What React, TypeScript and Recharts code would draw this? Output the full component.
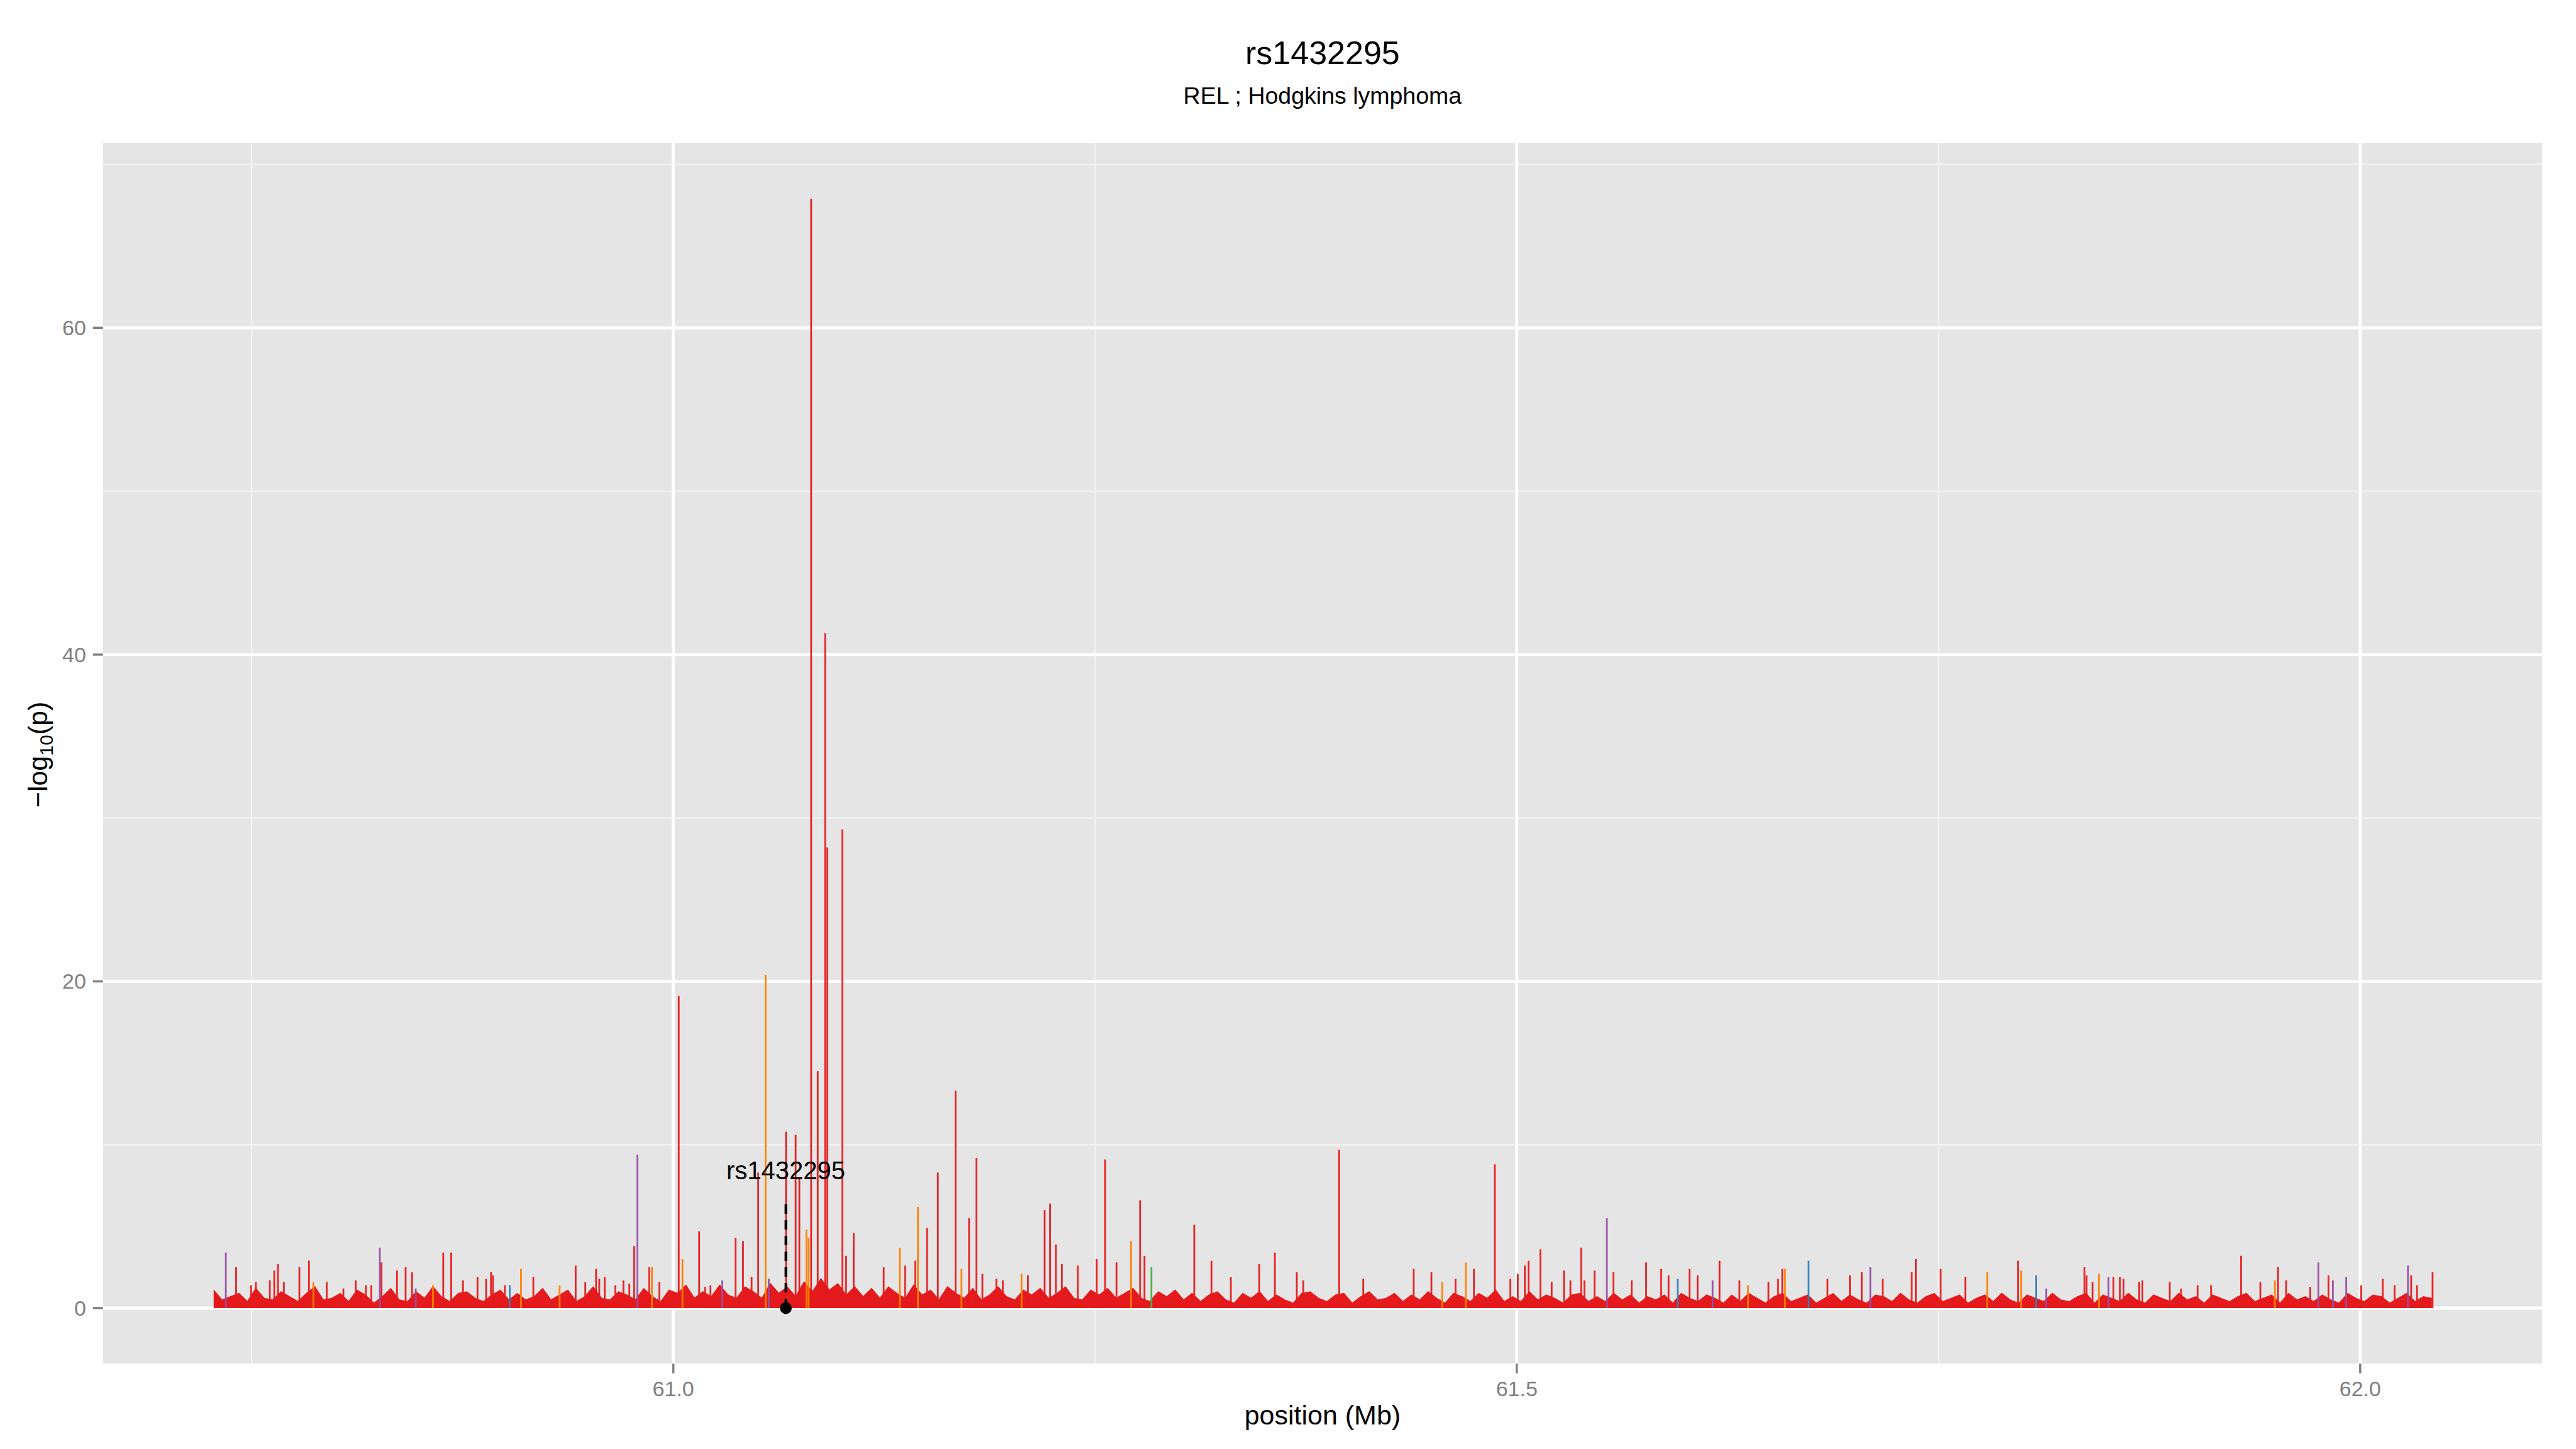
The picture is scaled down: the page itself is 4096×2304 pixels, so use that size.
import React from 'react';
import {
  ComposedChart,
  Area,
  Scatter,
  ErrorBar,
  XAxis,
  YAxis,
  CartesianGrid,
  ReferenceLine,
  ReferenceDot,
} from 'recharts';

// ---------- text ----------
const TITLE = 'rs1432295';
const SUBTITLE = 'REL ; Hodgkins lymphoma';
const X_LABEL = 'position (Mb)';
const LEAD_SNP = 'rs1432295';

// ---------- axes ----------
const X_TICKS = [61.0, 61.5, 62.0];
const X_MINOR = [60.75, 61.25, 61.75];
const Y_TICKS = [0, 20, 40, 60];
const Y_MINOR = [10, 30, 50, 70];
const X_DOMAIN: [number, number] = [60.6619, 62.1078];
const Y_DOMAIN: [number, number] = [-3.4, 71.33];

// ---------- lead SNP annotation ----------
const LEAD_POS = 61.0667;
const LEAD_LINE_TOP = 6.7;
const LEAD_LABEL_Y = 7.9;

// ---------- background band of -log10(p) (dense low-signal SNPs) ----------
const BAND_POS = [
  60.7275, 60.7325, 60.7375, 60.7425, 60.7475, 60.7525, 60.7575, 60.7625, 60.7675, 60.7725,
  60.7775, 60.7825, 60.7875, 60.7925, 60.7975, 60.8025, 60.8075, 60.8125, 60.8175, 60.8225,
  60.8275, 60.8325, 60.8375, 60.8425, 60.8475, 60.8525, 60.8575, 60.8625, 60.8675, 60.8725,
  60.8775, 60.8825, 60.8875, 60.8925, 60.8975, 60.9025, 60.9075, 60.9125, 60.9175, 60.9225,
  60.9275, 60.9325, 60.9375, 60.9425, 60.9475, 60.9525, 60.9575, 60.9625, 60.9675, 60.9725,
  60.9775, 60.9825, 60.9875, 60.9925, 60.9975, 61.0025, 61.0075, 61.0125, 61.0175, 61.0225,
  61.0275, 61.0325, 61.0375, 61.0425, 61.0475, 61.0525, 61.0575, 61.0625, 61.0675, 61.0725,
  61.0775, 61.0825, 61.0875, 61.0925, 61.0975, 61.1025, 61.1075, 61.1125, 61.1175, 61.1225,
  61.1275, 61.1325, 61.1375, 61.1425, 61.1475, 61.1525, 61.1575, 61.1625, 61.1675, 61.1725,
  61.1775, 61.1825, 61.1875, 61.1925, 61.1975, 61.2025, 61.2075, 61.2125, 61.2175, 61.2225,
  61.2275, 61.2325, 61.2375, 61.2425, 61.2475, 61.2525, 61.2575, 61.2625, 61.2675, 61.2725,
  61.2775, 61.2825, 61.2875, 61.2925, 61.2975, 61.3025, 61.3075, 61.3125, 61.3175, 61.3225,
  61.3275, 61.3325, 61.3375, 61.3425, 61.3475, 61.3525, 61.3575, 61.3625, 61.3675, 61.3725,
  61.3775, 61.3825, 61.3875, 61.3925, 61.3975, 61.4025, 61.4075, 61.4125, 61.4175, 61.4225,
  61.4275, 61.4325, 61.4375, 61.4425, 61.4475, 61.4525, 61.4575, 61.4625, 61.4675, 61.4725,
  61.4775, 61.4825, 61.4875, 61.4925, 61.4975, 61.5025, 61.5075, 61.5125, 61.5175, 61.5225,
  61.5275, 61.5325, 61.5375, 61.5425, 61.5475, 61.5525, 61.5575, 61.5625, 61.5675, 61.5725,
  61.5775, 61.5825, 61.5875, 61.5925, 61.5975, 61.6025, 61.6075, 61.6125, 61.6175, 61.6225,
  61.6275, 61.6325, 61.6375, 61.6425, 61.6475, 61.6525, 61.6575, 61.6625, 61.6675, 61.6725,
  61.6775, 61.6825, 61.6875, 61.6925, 61.6975, 61.7025, 61.7075, 61.7125, 61.7175, 61.7225,
  61.7275, 61.7325, 61.7375, 61.7425, 61.7475, 61.7525, 61.7575, 61.7625, 61.7675, 61.7725,
  61.7775, 61.7825, 61.7875, 61.7925, 61.7975, 61.8025, 61.8075, 61.8125, 61.8175, 61.8225,
  61.8275, 61.8325, 61.8375, 61.8425, 61.8475, 61.8525, 61.8575, 61.8625, 61.8675, 61.8725,
  61.8775, 61.8825, 61.8875, 61.8925, 61.8975, 61.9025, 61.9075, 61.9125, 61.9175, 61.9225,
  61.9275, 61.9325, 61.9375, 61.9425, 61.9475, 61.9525, 61.9575, 61.9625, 61.9675, 61.9725,
  61.9775, 61.9825, 61.9875, 61.9925, 61.9975, 62.0025, 62.0075, 62.0125, 62.0175, 62.0225,
  62.0275, 62.0325, 62.0375, 62.0425,
];
const BAND_VAL = [
  1.1, 0.5, 0.7, 0.9, 0.4, 1.2, 0.6, 0.5, 1.0, 0.7,
  0.4, 0.9, 1.3, 0.5, 0.6, 0.9, 0.4, 1.1, 0.8, 0.3,
  0.7, 1.2, 0.5, 0.4, 1.0, 0.6, 1.3, 0.7, 0.4, 0.9,
  1.0, 0.6, 0.4, 0.8, 1.1, 0.5, 0.9, 0.5, 0.7, 1.2,
  0.5, 0.8, 1.1, 0.4, 0.7, 1.3, 0.6, 0.5, 1.0, 0.8,
  0.5, 1.2, 0.7, 0.4, 1.1, 0.9, 1.4, 0.6, 1.0, 0.7,
  1.4, 0.8, 0.6, 1.3, 1.0, 0.6, 1.5, 0.9, 1.3, 0.7,
  1.6, 1.0, 1.8, 1.1, 1.5, 0.8, 1.3, 0.7, 1.2, 0.6,
  1.3, 0.9, 0.6, 1.4, 0.8, 1.1, 0.5, 1.3, 0.9, 0.6,
  1.2, 0.5, 0.8, 1.3, 0.7, 0.5, 1.1, 0.8, 1.2, 0.6,
  0.9, 1.3, 0.6, 0.5, 1.1, 0.8, 1.2, 0.6, 0.9, 1.2,
  0.6, 0.4, 1.0, 0.7, 1.1, 0.5, 0.9, 0.4, 0.8, 1.0,
  0.5, 0.3, 0.9, 0.6, 1.0, 0.4, 0.8, 0.5, 0.3, 0.9,
  1.0, 0.6, 0.4, 0.8, 0.9, 0.3, 0.7, 1.0, 0.5, 0.6,
  0.9, 0.4, 0.8, 0.5, 1.0, 0.6, 0.3, 0.9, 0.7, 0.4,
  0.9, 0.6, 1.1, 0.4, 0.7, 0.4, 1.0, 0.5, 0.8, 0.6,
  0.3, 0.8, 0.9, 0.4, 0.7, 0.4, 0.9, 0.5, 0.8, 0.3,
  0.7, 0.5, 0.8, 0.3, 0.9, 0.6, 0.4, 0.8, 0.6, 0.3,
  0.8, 0.4, 0.9, 0.6, 0.3, 0.7, 0.9, 0.4, 0.6, 0.8,
  0.3, 0.6, 0.9, 0.4, 0.8, 0.5, 0.3, 0.8, 0.7, 0.4,
  0.9, 0.5, 0.3, 0.7, 0.9, 0.4, 0.6, 0.8, 0.3, 0.6,
  0.8, 0.4, 0.9, 0.5, 0.3, 0.8, 0.6, 0.4, 0.9, 0.5,
  0.4, 0.7, 0.9, 0.3, 0.8, 0.6, 0.4, 0.9, 0.5, 0.3,
  0.8, 0.6, 0.4, 0.9, 0.5, 0.7, 0.3, 0.8, 0.6, 0.4,
  0.7, 0.9, 0.4, 0.6, 0.8, 0.3, 0.9, 0.5, 0.7, 0.4,
  0.8, 0.5, 0.3, 0.9, 0.6, 0.4, 0.8, 0.7, 0.3, 0.6,
  0.9, 0.4, 0.7, 0.6,
];

// ---------- individual SNP spikes: position (Mb), -log10(p), LD class ----------
// LD class: 0 red, 1 orange, 2 purple, 3 blue, 4 green
const SPIKE_POS = [
  60.7347, 60.7408, 60.7497, 60.7525, 60.7608, 60.7634, 60.7656, 60.7691, 60.7783, 60.784,
  60.7866, 60.7945, 60.8044, 60.8117, 60.8177, 60.8209, 60.826, 60.827, 60.8362, 60.8413,
  60.8451, 60.8473, 60.8575, 60.8636, 60.8683, 60.8753, 60.8839, 60.889, 60.8919, 60.8931,
  60.9001, 60.903, 60.9097, 60.917, 60.9326, 60.9421, 60.9478, 60.9542, 60.9561, 60.9593,
  60.9656, 60.9704, 60.9739, 60.9768, 60.9787, 60.9857, 60.9873, 60.9917, 61.0032, 61.0054,
  61.0153, 61.0188, 61.022, 61.029, 61.0369, 61.0413, 61.0464, 61.0503, 61.0547, 61.0566,
  61.0668, 61.0725, 61.0747, 61.0789, 61.0802, 61.0817, 61.0856, 61.09, 61.0913, 61.1002,
  61.1024, 61.1069, 61.1247, 61.1342, 61.1374, 61.1434, 61.145, 61.1504, 61.1568, 61.1673,
  61.1708, 61.1753, 61.1797, 61.1832, 61.1915, 61.1953, 61.2064, 61.2102, 61.2201, 61.2233,
  61.2268, 61.2303, 61.2398, 61.251, 61.256, 61.2627, 61.2713, 61.2767, 61.2793, 61.2834,
  61.3088, 61.319, 61.3305, 61.3473, 61.3566, 61.3696, 61.3734, 61.3947, 61.409, 61.4389,
  61.4494, 61.4558, 61.4637, 61.4698, 61.4746, 61.487, 61.4962, 61.5006, 61.5048, 61.507,
  61.514, 61.5207, 61.528, 61.5318, 61.5382, 61.5401, 61.5461, 61.5534, 61.5573, 61.5681,
  61.5767, 61.5856, 61.59, 61.5954, 61.6024, 61.6072, 61.6161, 61.6202, 61.632, 61.6371,
  61.6492, 61.6549, 61.6574, 61.659, 61.673, 61.6842, 61.6975, 61.7045, 61.7096, 61.7169,
  61.7341, 61.7366, 61.7513, 61.7659, 61.7789, 61.7971, 61.799, 61.8079, 61.8139, 61.8365,
  61.8378, 61.8413, 61.8451, 61.8508, 61.8537, 61.8575, 61.8597, 61.869, 61.8709, 61.8871,
  61.8938, 61.9036, 61.9116, 61.9294, 61.9408, 61.9494, 61.9513, 61.9561, 61.9704, 61.9752,
  61.9812, 61.9838, 61.9917, 62.0006, 62.0134, 62.0204, 62.0283, 62.0302, 62.0337, 62.0429,
];
const SPIKE_VAL = [
  3.4, 2.5, 1.4, 1.6, 1.7, 2.3, 2.7, 1.6, 2.5, 2.9,
  1.6, 1.6, 1.2, 1.7, 1.4, 1.4, 3.7, 2.8, 2.3, 2.5,
  2.2, 1.2, 1.4, 3.4, 3.4, 1.7, 1.9, 1.8, 2.2, 2.0,
  1.4, 1.4, 2.4, 1.9, 1.4, 2.6, 1.6, 2.4, 1.8, 1.9,
  1.4, 1.7, 1.5, 3.8, 9.4, 2.5, 2.5, 1.6, 19.1, 3.0,
  4.7, 1.3, 1.4, 1.7, 4.3, 4.1, 1.9, 8.3, 20.4, 1.8,
  10.8, 10.6, 8.0, 4.8, 4.3, 67.9, 14.5, 41.3, 28.2, 29.3,
  3.2, 4.6, 2.5, 3.7, 2.6, 2.9, 6.2, 4.9, 8.3, 13.3,
  2.4, 5.5, 9.2, 2.1, 1.8, 1.7, 2.1, 2.0, 6.0, 6.4,
  3.9, 2.7, 2.6, 3.0, 9.1, 2.8, 4.1, 6.6, 3.2, 2.5,
  5.1, 2.9, 1.9, 2.7, 3.4, 2.2, 1.7, 9.7, 1.8, 2.4,
  2.2, 1.6, 1.8, 2.8, 2.4, 8.8, 1.8, 2.1, 2.6, 2.9,
  3.6, 1.6, 2.3, 1.7, 3.7, 1.7, 2.3, 5.5, 2.2, 1.7,
  2.8, 2.4, 2.0, 1.8, 2.4, 2.0, 1.7, 2.9, 1.7, 1.4,
  1.6, 1.8, 2.4, 2.4, 2.9, 1.8, 2.0, 2.2, 2.5, 1.8,
  2.2, 3.0, 2.4, 1.9, 2.2, 2.9, 2.3, 2.0, 1.2, 2.5,
  2.0, 1.6, 2.1, 1.9, 1.9, 1.9, 1.8, 1.6, 1.7, 1.6,
  1.2, 1.4, 1.4, 3.2, 1.6, 1.7, 2.5, 1.7, 1.3, 2.8,
  2.0, 1.7, 1.9, 1.4, 1.8, 1.4, 2.6, 2.0, 1.4, 2.2,
];
const SPIKE_LD = [
  2, 0, 0, 0, 0, 0, 0, 0, 0, 0,
  1, 0, 0, 0, 0, 0, 2, 0, 0, 0,
  0, 2, 1, 0, 0, 0, 0, 0, 0, 0,
  0, 3, 1, 0, 1, 0, 0, 0, 0, 0,
  0, 0, 0, 0, 2, 0, 1, 0, 0, 1,
  0, 0, 0, 2, 0, 0, 0, 0, 1, 2,
  0, 0, 0, 1, 1, 0, 0, 0, 0, 0,
  0, 0, 0, 1, 0, 0, 1, 0, 0, 0,
  1, 0, 0, 0, 0, 0, 1, 0, 0, 0,
  0, 0, 0, 0, 0, 0, 1, 0, 0, 4,
  0, 0, 0, 0, 0, 0, 0, 0, 0, 0,
  0, 1, 0, 1, 0, 0, 0, 0, 0, 0,
  0, 0, 0, 0, 0, 0, 0, 2, 0, 0,
  0, 0, 0, 3, 0, 0, 2, 0, 0, 1,
  0, 0, 0, 1, 3, 0, 0, 0, 2, 0,
  0, 0, 0, 0, 1, 0, 1, 3, 2, 0,
  0, 0, 1, 2, 0, 0, 0, 0, 0, 0,
  0, 0, 0, 0, 0, 1, 0, 0, 0, 2,
  0, 2, 2, 0, 0, 0, 2, 0, 0, 0,
];
const LD_COLORS = ['#E41A1C', '#FF7F00', '#984EA3', '#377EB8', '#4DAF4A'];

// ---------- derived tables ----------
const bandData = BAND_POS.map((pos, i) => ({ pos, band: BAND_VAL[i] }));
const spikeSeries = LD_COLORS.map((color, k) => ({
  color,
  data: SPIKE_POS.map((pos, i) => ({ pos, val: SPIKE_VAL[i], err: [SPIKE_VAL[i], 0], ld: SPIKE_LD[i] })).filter(
    (d) => d.ld === k,
  ),
}));

// ---------- layout (output pixels) ----------
const W = 4096;
const H = 2304;
const FONT = '"Liberation Sans", Arial, Helvetica, sans-serif';
const TICK_GREY = '#7F7F7F';

const XTick = (props: any) => {
  const { x, y, payload } = props;
  return (
    <text x={x} y={y + 36} textAnchor="middle" fontSize={34} fill={TICK_GREY} fontFamily={FONT}>
      {Number(payload.value).toFixed(1)}
    </text>
  );
};

const YTick = (props: any) => {
  const { x, y, payload } = props;
  return (
    <text x={x} y={y + 12} textAnchor="end" fontSize={34} fill={TICK_GREY} fontFamily={FONT}>
      {payload.value}
    </text>
  );
};

const Empty = () => <g />;

export default function App() {
  const plotCenterX = (163.8 + 4042) / 2;
  return (
    <div style={{ position: 'absolute', left: 0, top: 0, width: W, height: H, background: '#ffffff', overflow: 'hidden' }}>
      <ComposedChart
        width={W}
        height={H}
        data={bandData}
        margin={{ top: 227, right: 54, bottom: 75.7, left: 63.8 }}
      >
        <CartesianGrid
          fill="#E5E5E5"
          stroke="#F2F2F2"
          strokeWidth={2.4}
          horizontalValues={Y_MINOR}
          verticalValues={X_MINOR}
        />
        <CartesianGrid
          stroke="#FFFFFF"
          strokeWidth={4.8}
          horizontalValues={Y_TICKS}
          verticalValues={X_TICKS}
        />
        <XAxis
          type="number"
          dataKey="pos"
          domain={X_DOMAIN}
          allowDataOverflow
          ticks={X_TICKS}
          height={60}
          axisLine={false}
          tickSize={15.4}
          tickMargin={0}
          tickLine={{ stroke: TICK_GREY, strokeWidth: 3.5 }}
          tick={XTick}
        />
        <YAxis
          type="number"
          domain={Y_DOMAIN}
          allowDataOverflow
          ticks={Y_TICKS}
          width={100}
          axisLine={false}
          tickSize={16}
          tickMargin={11}
          tickLine={{ stroke: TICK_GREY, strokeWidth: 3.5 }}
          tick={YTick}
        />
        <Area
          type="linear"
          dataKey="band"
          fill="#E41A1C"
          fillOpacity={1}
          stroke="#E41A1C"
          strokeWidth={1.5}
          dot={false}
          activeDot={false}
          isAnimationActive={false}
        />
        {spikeSeries.map((s, k) => (
          <Scatter key={k} data={s.data} dataKey="val" shape={Empty} isAnimationActive={false}>
            <ErrorBar
              dataKey="err"
              direction="y"
              width={0}
              stroke={s.color}
              strokeWidth={2.8}
              strokeOpacity={0.95}
              isAnimationActive={false}
            />
          </Scatter>
        ))}
        <ReferenceLine
          segment={[
            { x: LEAD_POS, y: 0 },
            { x: LEAD_POS, y: LEAD_LINE_TOP },
          ]}
          stroke="#000000"
          strokeWidth={4}
          strokeDasharray="15 10"
        />
        <ReferenceDot x={LEAD_POS} y={0} r={9.4} fill="#000000" stroke="none" />
        <ReferenceDot
          x={LEAD_POS}
          y={LEAD_LABEL_Y}
          r={0}
          shape={(p: any) => (
            <text x={p.cx} y={p.cy} textAnchor="middle" fontSize={40} fill="#000000" fontFamily={FONT}>
              {LEAD_SNP}
            </text>
          )}
        />
      </ComposedChart>
      <svg
        width={W}
        height={H}
        style={{ position: 'absolute', left: 0, top: 0, pointerEvents: 'none' }}
        fontFamily={FONT}
      >
        <text x={plotCenterX} y={102.4} textAnchor="middle" fontSize={52} fill="#000">
          {TITLE}
        </text>
        <text x={plotCenterX} y={164.6} textAnchor="middle" fontSize={37.5} fill="#000">
          {SUBTITLE}
        </text>
        <text x={plotCenterX} y={2264.7} textAnchor="middle" fontSize={43} fill="#000">
          {X_LABEL}
        </text>
        <text transform="translate(75,1200) rotate(-90)" textAnchor="middle" fontSize={43} fill="#000">
          <tspan>−log</tspan>
          <tspan fontSize={30} dy={9}>
            10
          </tspan>
          <tspan dy={-9}>(p)</tspan>
        </text>
      </svg>
    </div>
  );
}
